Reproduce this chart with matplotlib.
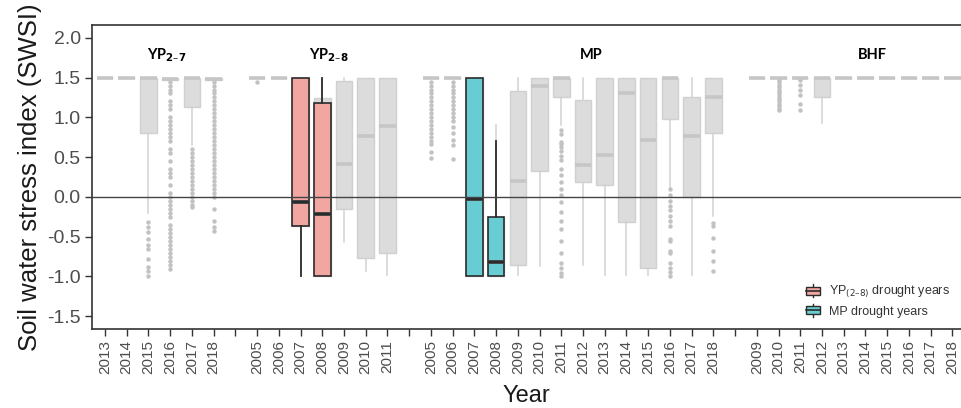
import numpy as np
import matplotlib.pyplot as plt
from matplotlib.patches import Patch, Rectangle
from matplotlib.lines import Line2D
from matplotlib.legend_handler import HandlerBase

plt.rcParams['font.family'] = ['Liberation Sans', 'DejaVu Sans']

# ---- data ----
# YP(2-7)
yp7_years = [2013, 2014, 2015, 2016, 2017, 2018]
yp7_q1 = [1.5, 1.5, 0.80, 1.47, 1.13, 1.47]
yp7_med = [1.5, 1.5, 1.5, 1.48, 1.5, 1.48]
yp7_q3 = [1.5, 1.5, 1.5, 1.5, 1.5, 1.5]
yp7_lo = [1.5, 1.5, -0.20, 1.47, 0.65, 1.47]
yp7_hi = [1.5, 1.5, 1.5, 1.5, 1.5, 1.5]
yp7_fliers = [
    [], [],
    [-0.31, -0.38, -0.44, -0.53, -0.60, -0.66, -0.78, -0.88, -0.93, -0.99],
    [1.45, 1.40, 1.35, 1.30, 1.20, 1.15, 1.10, 1.00, 0.95, 0.90, 0.85, 0.80,
     0.75, 0.70, 0.60, 0.55, 0.45, 0.35, 0.30, 0.25, 0.15, 0.05, 0.00, -0.05,
     -0.10, -0.15, -0.20, -0.25, -0.35, -0.40, -0.45, -0.50, -0.55, -0.60,
     -0.65, -0.70, -0.75, -0.80, -0.85, -0.90],
    [0.60, 0.55, 0.50, 0.45, 0.40, 0.35, 0.30, 0.25, 0.20, 0.15, 0.10, 0.05,
     0.00, -0.05, -0.10, -0.13],
    [1.45, 1.40, 1.35, 1.30, 1.25, 1.20, 1.15, 1.10, 1.05, 1.00, 0.95, 0.90,
     0.85, 0.80, 0.75, 0.70, 0.65, 0.60, 0.55, 0.50, 0.45, 0.40, 0.35, 0.30,
     0.25, 0.20, 0.15, 0.10, 0.05, 0.00, -0.15, -0.30, -0.38, -0.43],
]

# YP(2-8)
yp8_years = [2005, 2006, 2007, 2008, 2009, 2010, 2011]
yp8_q1 = [1.5, 1.5, -0.37, -1.0, -0.15, -0.77, -0.70]
yp8_med = [1.5, 1.5, -0.06, -0.22, 0.42, 0.76, 0.89]
yp8_q3 = [1.5, 1.5, 1.5, 1.24, 1.46, 1.5, 1.5]
yp8_lo = [1.5, 1.5, -1.0, -1.0, -0.57, -0.93, -0.98]
yp8_hi = [1.5, 1.5, 1.5, 1.5, 1.5, 1.5, 1.5]
yp8_fliers = [[1.45], [], [], [], [], [], []]

# MP
mp_years = list(range(2005, 2019))
mp_q1 = [1.5, 1.5, -1.0, -1.0, -0.85, 0.33, 1.25, 0.19, 0.15, -0.32, -0.89, 0.98, 0.0, 0.80]
mp_med = [1.5, 1.5, -0.02, -0.82, 0.20, 1.40, 1.49, 0.40, 0.53, 1.31, 0.72, 1.49, 0.76, 1.26]
mp_q3 = [1.5, 1.5, 1.5, -0.25, 1.33, 1.5, 1.5, 1.22, 1.5, 1.5, 1.5, 1.5, 1.26, 1.5]
mp_lo = [1.5, 1.5, -1.0, -1.0, -0.98, -0.87, 0.90, -0.85, -0.98, -0.98, -0.98, 0.12, -0.98, -0.24]
mp_hi = [1.5, 1.5, 1.5, 0.91, 1.5, 1.5, 1.5, 1.5, 1.5, 1.5, 1.5, 1.5, 1.5, 1.5]
mp_fliers = [
    [1.45, 1.40, 1.35, 1.30, 1.25, 1.20, 1.15, 1.10, 1.05, 1.00, 0.95, 0.90,
     0.85, 0.80, 0.75, 0.70, 0.66, 0.57, 0.49],
    [1.45, 1.40, 1.35, 1.30, 1.25, 1.20, 1.15, 1.10, 1.05, 1.00, 0.96, 0.88,
     0.80, 0.71, 0.65, 0.48],
    [], [], [], [],
    [0.84, 0.79, 0.69, 0.66, 0.63, 0.58, 0.52, 0.46, 0.35, 0.27, 0.19, 0.10,
     0.02, -0.07, -0.19, -0.30, -0.40, -0.55, -0.70, -0.83, -0.89, -0.95, -0.99],
    [], [], [], [],
    [0.10, 0.02, -0.05, -0.11, -0.17, -0.24, -0.30, -0.36, -0.53, -0.55,
     -0.68, -0.70, -0.83, -0.89, -0.94, -0.99],
    [],
    [-0.33, -0.36, -0.52, -0.68, -0.81, -0.93],
]

# BHF
bhf_years = list(range(2009, 2019))
bhf_q1 = [1.5, 1.5, 1.5, 1.26, 1.5, 1.5, 1.5, 1.5, 1.5, 1.5]
bhf_med = [1.5] * 10
bhf_q3 = [1.5] * 10
bhf_lo = [1.5, 1.5, 1.5, 0.93, 1.5, 1.5, 1.5, 1.5, 1.5, 1.5]
bhf_hi = [1.5] * 10
bhf_fliers = [
    [],
    [1.47, 1.44, 1.41, 1.38, 1.35, 1.32, 1.29, 1.26, 1.23, 1.20, 1.17, 1.14, 1.11, 1.09],
    [1.47, 1.41, 1.34, 1.28, 1.17, 1.09],
    [], [], [], [], [], [], [],
]

# drought years (coloured)
yp_dry_years = [2007, 2008]
yp_dry_q1 = [-0.37, -1.0]
yp_dry_med = [-0.06, -0.22]
yp_dry_q3 = [1.5, 1.18]
yp_dry_lo = [-1.0, -1.0]
yp_dry_hi = [1.5, 1.5]

mp_dry_years = [2007, 2008]
mp_dry_q1 = [-1.0, -1.0]
mp_dry_med = [-0.02, -0.82]
mp_dry_q3 = [1.5, -0.25]
mp_dry_lo = [-1.0, -1.0]
mp_dry_hi = [1.5, 0.70]

group_names = ['YP$_{\\mathbf{2\u20137}}$', 'YP$_{\\mathbf{2\u20138}}$', 'MP', 'BHF']
legend_labels = ['YP$_{(2\u20138)}$ drought years', 'MP drought years']

red = '#f2a6a1'
cyan = '#67cdd2'
dark = '#2b2b2b'


def make_stats(q1, med, q3, lo, hi, fl=None):
    out = []
    for i in range(len(q1)):
        out.append(dict(q1=q1[i], med=med[i], q3=q3[i], whislo=lo[i], whishi=hi[i],
                        fliers=fl[i] if fl else []))
    return out


class BoxHandler(HandlerBase):
    # small boxplot glyph for the legend
    def create_artists(self, legend, orig, xd, yd, w, h, fs, trans):
        cx = xd + w / 2
        line = Line2D([cx, cx], [yd - 0.25 * h, yd + 1.25 * h], color=dark, lw=1, transform=trans)
        box = Rectangle((xd, yd + 0.05 * h), w, 0.9 * h, facecolor=orig.get_facecolor(),
                        edgecolor=dark, lw=1, transform=trans)
        med = Line2D([xd, xd + w], [yd + 0.5 * h] * 2, color=dark, lw=1.2, transform=trans)
        return [line, box, med]


groups = [
    (yp7_years, make_stats(yp7_q1, yp7_med, yp7_q3, yp7_lo, yp7_hi, yp7_fliers)),
    (yp8_years, make_stats(yp8_q1, yp8_med, yp8_q3, yp8_lo, yp8_hi, yp8_fliers)),
    (mp_years, make_stats(mp_q1, mp_med, mp_q3, mp_lo, mp_hi, mp_fliers)),
    (bhf_years, make_stats(bhf_q1, bhf_med, bhf_q3, bhf_lo, bhf_hi, bhf_fliers)),
]

fig = plt.figure(figsize=(9.61, 4.08), dpi=100)
ax = fig.add_axes([0.0957, 0.1936, 0.9043, 0.745])

gray_box = dict(facecolor='#dcdcdc', edgecolor='#d0d0d0', linewidth=1)
gray_med = dict(color='#c6c6c6', linewidth=2.6, solid_capstyle='butt')
gray_wh = dict(color='#d2d2d2', linewidth=1.1)
gray_fl = dict(marker='o', markersize=3.2, markerfacecolor='#c2c2c2', markeredgecolor='none')

pos = 1
tick_pos, tick_lab = [], []
group_pos = {}
for gi, (years, stats) in enumerate(groups):
    p = list(range(pos, pos + len(years)))
    group_pos[gi] = dict(zip(years, p))
    ax.bxp(stats, positions=p, widths=0.76, patch_artist=True, showcaps=False,
           boxprops=gray_box, medianprops=gray_med, whiskerprops=gray_wh,
           flierprops=gray_fl, manage_ticks=False)
    tick_pos += p
    tick_lab += [str(y) for y in years]
    pos += len(years)
    if gi < len(groups) - 1:
        tick_pos.append(pos)
        tick_lab.append('')
        pos += 1

for gi, years, q1, med, q3, lo, hi, col in [
        (1, yp_dry_years, yp_dry_q1, yp_dry_med, yp_dry_q3, yp_dry_lo, yp_dry_hi, red),
        (2, mp_dry_years, mp_dry_q1, mp_dry_med, mp_dry_q3, mp_dry_lo, mp_dry_hi, cyan)]:
    p = [group_pos[gi][y] for y in years]
    ax.bxp(make_stats(q1, med, q3, lo, hi), positions=p, widths=0.76, patch_artist=True,
           showcaps=False, showfliers=False,
           boxprops=dict(facecolor=col, edgecolor=dark, linewidth=1.2),
           medianprops=dict(color=dark, linewidth=2.6, solid_capstyle='butt'),
           whiskerprops=dict(color=dark, linewidth=1.3), manage_ticks=False)

ax.axhline(0, color='#444444', linewidth=1.0, zorder=10)

# group labels
label_x = [3.85, 11.3, 23.4, 36.3]
for name, x in zip(group_names, label_x):
    ax.text(x, 1.78, name, ha='center', va='center', fontsize=10.5,
            fontweight='bold', family=['Lato', 'DejaVu Sans'])

ax.set_xlim(0.4, 40.4)
ax.set_ylim(-1.66, 2.16)
ax.set_xticks(tick_pos)
ax.set_xticklabels(tick_lab, rotation=90, fontsize=11, color='#4d4d4d')
ax.set_yticks([-1.5, -1.0, -0.5, 0.0, 0.5, 1.0, 1.5, 2.0])
ax.set_yticklabels(['-1.5', '-1.0', '-0.5', '0.0', '0.5', '1.0', '1.5', '2.0'],
                   fontsize=14, color='#4d4d4d')
ax.tick_params(axis='both', direction='out', length=5, width=1, color='#333333')
ax.tick_params(axis='x', pad=3)
ax.tick_params(axis='y', pad=3)
for s in ax.spines.values():
    s.set_color('#333333')
    s.set_linewidth(1.2)
ax.spines['right'].set_visible(False)

ax.set_ylabel('Soil water stress index (SWSI)', fontsize=18.5, color='#1a1a1a', labelpad=4)
ax.set_xlabel('Year', fontsize=17, color='#1a1a1a', labelpad=8)

handles = [Patch(facecolor=red), Patch(facecolor=cyan)]
ax.legend(handles, legend_labels, handler_map={Patch: BoxHandler()},
          loc='lower right', bbox_to_anchor=(1.0, 0.0), frameon=False,
          fontsize=9, handlelength=1.1, handleheight=0.7, handletextpad=0.7,
          labelspacing=0.45, labelcolor='#333333')

fig.savefig('out.png', dpi=100)
